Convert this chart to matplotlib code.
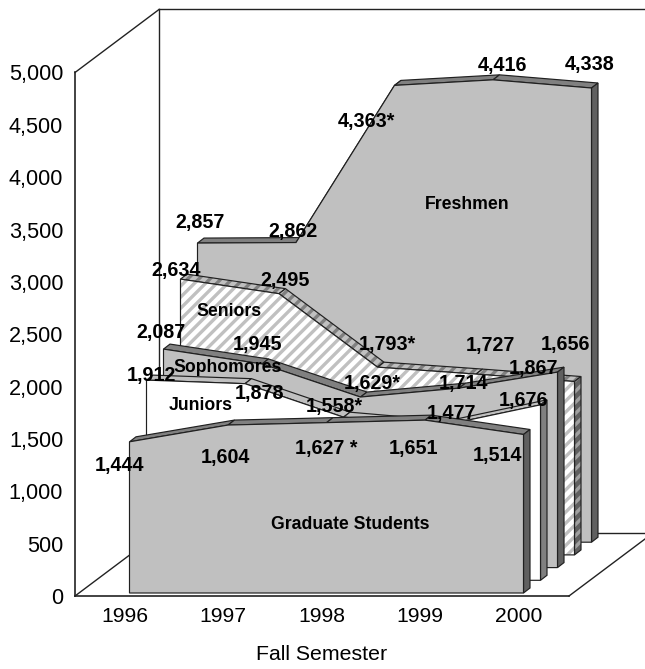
import numpy as np
import matplotlib
matplotlib.use("Agg")
import matplotlib.pyplot as plt
from matplotlib.patches import Polygon
from matplotlib.lines import Line2D
from matplotlib.transforms import IdentityTransform

plt.rcParams['font.family'] = ['Liberation Sans', 'DejaVu Sans']
plt.rcParams['hatch.linewidth'] = 2.4

years = ['1996', '1997', '1998', '1999', '2000']
graduate = [1444, 1604, 1627, 1651, 1514]
juniors = [1912, 1878, 1558, 1477, 1676]
sophomores = [2087, 1945, 1629, 1714, 1867]
seniors = [2634, 2495, 1793, 1727, 1656]
freshmen = [2857, 2862, 4363, 4416, 4338]
names = ['Graduate Students', 'Juniors', 'Sophomores', 'Seniors', 'Freshmen']
series = [graduate, juniors, sophomores, seniors, freshmen]
label_text = [
    ['1,444', '1,604', '1,627 *', '1,651', '1,514'],
    ['1,912', '1,878', '1,558*', '1,477', '1,676'],
    ['2,087', '1,945', '1,629*', '1,714', '1,867'],
    ['2,634', '2,495', '1,793*', '1,727', '1,656'],
    ['2,857', '2,862', '4,363*', '4,416', '4,338'],
]

# --- layout / style (pixels) ---
W, H = 645, 669
L, R, T, B = 75, 569, 72.5, 596
STEP = 98.5
X0 = 129.5
SER_DX, SER_DY = 17.0, 12.7
BASE_UP = 3.0
RIB = (6.5, 5.0)
WALL = (84.0, 63.0)
label_off = [
    [(-9.5, 24), (-3, 32), (0, 25.5), (-11, 28), (-26.5, 21)],
    [(4.5, -5), (14, 9.5), (-9.5, -11), (9, -12.5), (-17.5, -4.7)],
    [(-2.5, -17), (-4, -19), (11.5, -14), (4, -5), (-24.5, -4)],
    [(-4.5, -9), (6, -13), (9.5, -23), (14, -29), (-8.5, -37)],
    [(2.5, -21), (-3, -11), (-28.5, 36), (9, -14), (-1.5, -24)],
]
name_pos = [(2.239, 658), (0.553, 1673), (0.655, 1914), (0.49, 2327), (2.736, 3227)]
styles = [
    dict(face='#C0C0C0', rib='#808080', side='#606060'),
    dict(face='#FFFFFF', rib='#C0C0C0', side='#808080'),
    dict(face='#C0C0C0', rib='#808080', side='#606060'),
    dict(face='#FFFFFF', rib='#C0C0C0', side='#606060', hatch='#C0C0C0',
         rib_hatch='#808080', side_hatch='#A0A0A0'),
    dict(face='#C0C0C0', rib='#808080', side='#606060'),
]

fig = plt.figure(figsize=(W / 100, H / 100), dpi=100)
ax = fig.add_axes([L / W, (H - B) / H, (R - L) / W, (B - T) / H])
ax.set_xlim((L - X0) / STEP, (R - X0) / STEP)
ax.set_ylim(0, 5000)
for s in ('top', 'right'):
    ax.spines[s].set_visible(False)
for s in ('left', 'bottom'):
    ax.spines[s].set_linewidth(1.2)
    ax.spines[s].set_color('#222222')
ax.set_yticks(np.arange(0, 5001, 500))
ax.set_yticklabels([f'{v:,}' for v in range(0, 5001, 500)], fontsize=15.6)
ax.set_xticks(np.arange(5) - 0.05)
ax.set_xticklabels(years, fontsize=15.2)
ax.tick_params(axis='y', length=0, pad=8.5)
ax.tick_params(axis='x', length=0, pad=8)
ax.set_xlabel('Fall Semester', fontsize=15.3, labelpad=13.5)

# walls
fx, fy = WALL[0] / (R - L), WALL[1] / (B - T)
for xs, ys in [([0, fx], [1, 1 + fy]), ([fx, fx], [fy, 1 + fy]), ([fx, 2], [1 + fy, 1 + fy]),
               ([0, fx], [0, fy]), ([1, 1 + fx], [0, fy]), ([fx, 2], [fy, fy])]:
    ax.add_line(Line2D(xs, ys, transform=ax.transAxes, color='#222222', lw=1.0,
                       clip_on=False, zorder=0.5))


def to_px(k, cats, vals):
    pts = ax.transData.transform(np.column_stack([cats, vals]))
    return pts + np.array([SER_DX * k, SER_DY * k + BASE_UP])


def poly(verts, face, hatch=None, lw=0.85):
    idt = IdentityTransform()
    if hatch:
        ax.add_patch(Polygon(verts, closed=True, transform=idt, facecolor=face, edgecolor=hatch,
                             hatch='///', lw=0, clip_on=False))
        ax.add_patch(Polygon(verts, closed=True, transform=idt, facecolor='none',
                             edgecolor='#202020', lw=lw, clip_on=False))
    else:
        ax.add_patch(Polygon(verts, closed=True, transform=idt, facecolor=face,
                             edgecolor='#202020', lw=lw, clip_on=False))


cats = np.arange(5)
rib = np.array(RIB)
for k in range(4, -1, -1):
    st = styles[k]
    vals = np.array(series[k], float)
    top = to_px(k, cats, vals)
    base = to_px(k, cats, np.zeros(5))
    for i in range(4):
        poly([top[i], top[i + 1], top[i + 1] + rib, top[i] + rib], st['rib'], st.get('rib_hatch'))
    poly([base[4], top[4], top[4] + rib, base[4] + rib], st['side'], st.get('side_hatch'))
    poly(list(base[::-1]) + list(top), st['face'], st.get('hatch'))

# labels
for k in range(5):
    pts = to_px(k, cats, series[k])
    for i in range(5):
        dx, dy = label_off[k][i]
        ax.annotate(label_text[k][i], xy=pts[i], xycoords=IdentityTransform(),
                    xytext=(dx, -dy), textcoords='offset pixels', ha='center', va='center',
                    fontsize=14.2, fontweight='bold', color='black', zorder=6,
                    annotation_clip=False)
    nx, nv = name_pos[k]
    p = to_px(k, [nx], [nv])[0]
    ax.annotate(names[k], xy=p, xycoords=IdentityTransform(), ha='center', va='center',
                fontsize=12.7, fontweight='bold', color='black', zorder=6,
                annotation_clip=False)

fig.savefig('out.png', dpi=100)
